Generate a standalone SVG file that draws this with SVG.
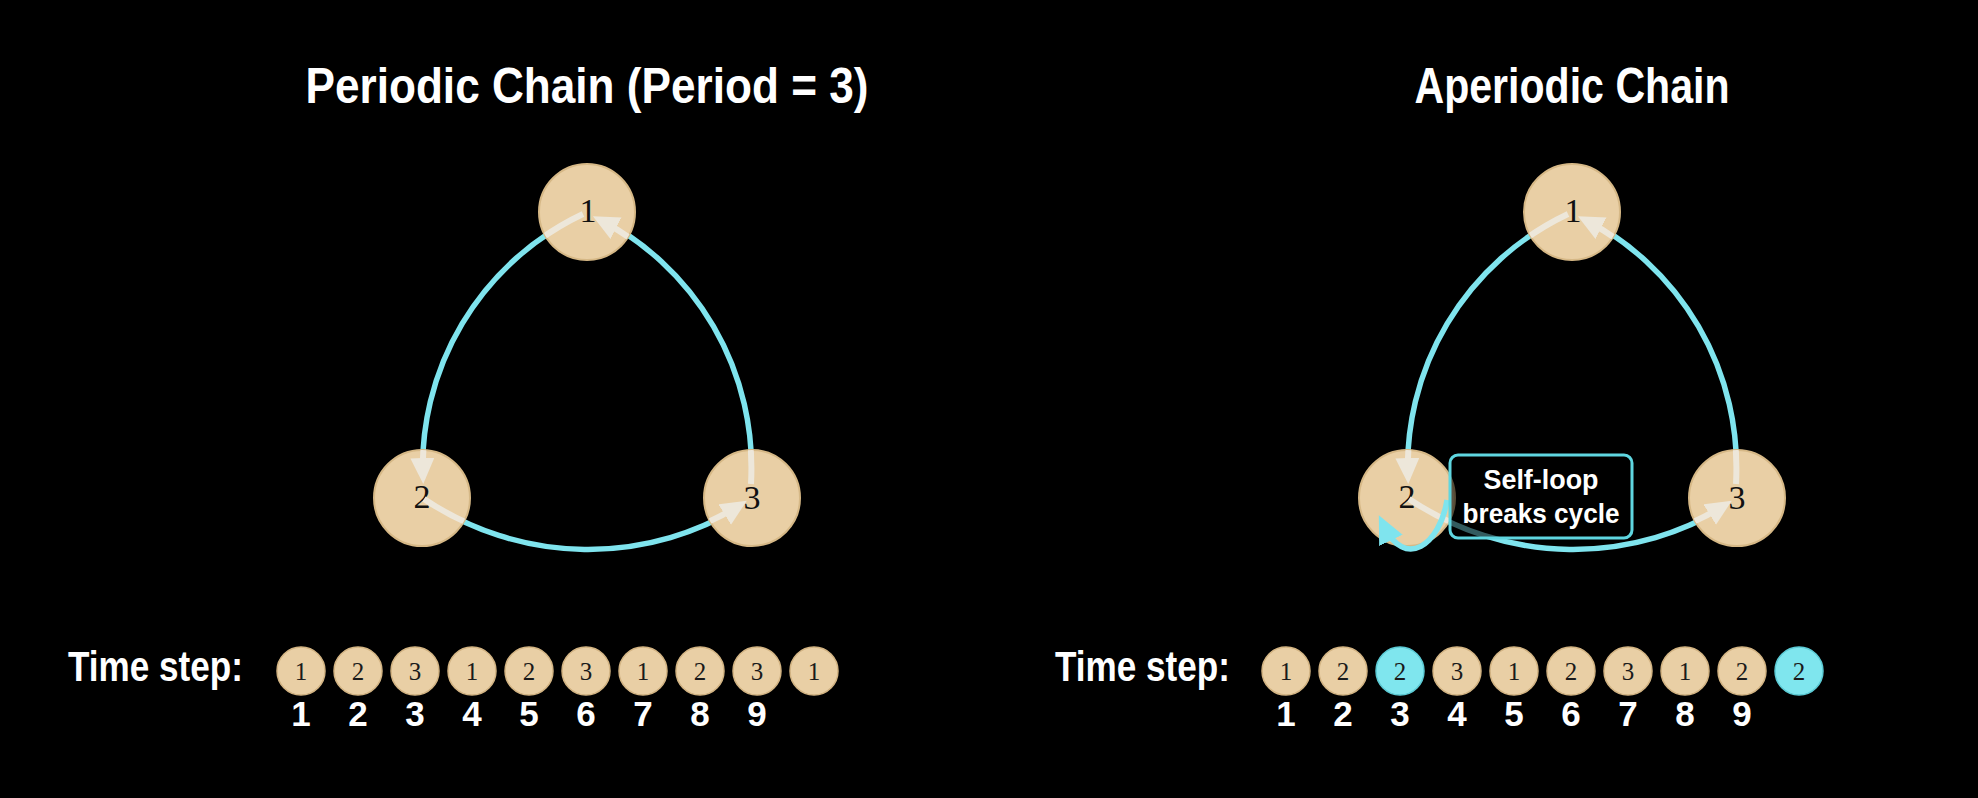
<svg xmlns="http://www.w3.org/2000/svg" width="1978" height="798" viewBox="0 0 1978 798">
  <style>
    .title { font-family: "Liberation Sans", Arial, sans-serif; font-weight: bold; font-size: 50px; fill: #ffffff; text-anchor: middle; }
    .edge { fill: none; stroke: #7fe4ee; stroke-width: 5.5; }
    .inner { fill: none; stroke: #ede7da; stroke-width: 6; }
    .node { fill: #e9cfa5; stroke: #d6b886; stroke-width: 2; }
    .nlabel { font-family: "Liberation Serif", "Times New Roman", serif; font-size: 34px; fill: #111111; text-anchor: middle; }
    .ts { font-family: "Liberation Sans", Arial, sans-serif; font-weight: bold; font-size: 42px; fill: #ffffff; }
    .dot { fill: #e9cfa5; stroke: #d3b483; stroke-width: 1.5; }
    .dotc { fill: #7fe6ee; stroke: #5ccbd5; stroke-width: 1.5; }
    .dlabel { font-family: "Liberation Serif", "Times New Roman", serif; font-size: 25px; fill: #1a1a1a; text-anchor: middle; }
    .num { font-family: "Liberation Sans", Arial, sans-serif; font-weight: bold; font-size: 35px; fill: #ffffff; text-anchor: middle; }
    .boxtext { font-family: "Liberation Sans", Arial, sans-serif; font-weight: bold; font-size: 28px; fill: #ffffff; text-anchor: middle; }
  </style>
  <defs>
    <marker id="arrowLight" markerUnits="userSpaceOnUse" markerWidth="28" markerHeight="26" refX="18" refY="12" orient="auto">
      <path d="M0,0 L26,12 L0,24 z" fill="#ede7da"/>
    </marker>
    <marker id="arrowCyan" markerUnits="userSpaceOnUse" markerWidth="30" markerHeight="28" refX="16" refY="13" orient="auto">
      <path d="M0,0 L28,13 L0,26 z" fill="#7fe4ee"/>
    </marker>
    <clipPath id="clipL">
      <circle cx="587" cy="212" r="48"/>
      <circle cx="422" cy="498" r="48"/>
      <circle cx="752" cy="498" r="48"/>
    </clipPath>
    <clipPath id="clipR">
      <circle cx="1572" cy="212" r="48"/>
      <circle cx="1407" cy="498" r="48"/>
      <circle cx="1737" cy="498" r="48"/>
    </clipPath>
  </defs>

  <rect x="0" y="0" width="1978" height="798" fill="#000000"/>

  <text class="title" x="587" y="103" textLength="563" lengthAdjust="spacingAndGlyphs">Periodic Chain (Period = 3)</text>
  <text class="title" x="1572" y="103" textLength="315" lengthAdjust="spacingAndGlyphs">Aperiodic Chain</text>

  <!-- connectors (outer cyan parts) -->
  <g id="connectors">
    <path class="edge" d="M 583 214 A 280 280 0 0 0 423 482"/>
    <path class="edge" d="M 424 499 A 292 292 0 0 0 746 503"/>
    <path class="edge" d="M 751 484 A 280 280 0 0 0 595 216"/>
    <path class="edge" d="M 1568 214 A 280 280 0 0 0 1408 482"/>
    <path class="edge" d="M 1409 499 A 292 292 0 0 0 1731 503"/>
    <path class="edge" d="M 1736 484 A 280 280 0 0 0 1580 216"/>
  </g>

  <!-- left nodes -->
  <g id="node-L1"><circle class="node" cx="587" cy="212" r="48"/><text class="nlabel" x="588" y="222">1</text></g>
  <g id="node-L2"><circle class="node" cx="422" cy="498" r="48"/><text class="nlabel" x="422" y="508">2</text></g>
  <g id="node-L3"><circle class="node" cx="752" cy="498" r="48"/><text class="nlabel" x="752" y="509">3</text></g>

  <!-- right nodes -->
  <g id="node-R1"><circle class="node" cx="1572" cy="212" r="48"/><text class="nlabel" x="1573" y="222">1</text></g>
  <g id="node-R2"><circle class="node" cx="1407" cy="498" r="48"/><text class="nlabel" x="1407" y="508">2</text></g>
  <g id="node-R3"><circle class="node" cx="1737" cy="498" r="48"/><text class="nlabel" x="1737" y="509">3</text></g>

  <!-- connectors (inner light parts + arrowheads) -->
  <g id="connectors-inner">
    <g clip-path="url(#clipL)">
      <path class="inner" d="M 583 214 A 280 280 0 0 0 423 476" marker-end="url(#arrowLight)"/>
      <path class="inner" d="M 424 499 A 292 292 0 0 0 740 505" marker-end="url(#arrowLight)"/>
      <path class="inner" d="M 751 484 A 280 280 0 0 0 600 220" marker-end="url(#arrowLight)"/>
    </g>
    <g clip-path="url(#clipR)">
      <path class="inner" d="M 1568 214 A 280 280 0 0 0 1408 476" marker-end="url(#arrowLight)"/>
      <path class="inner" d="M 1409 499 A 292 292 0 0 0 1725 505" marker-end="url(#arrowLight)"/>
      <path class="inner" d="M 1736 484 A 280 280 0 0 0 1585 220" marker-end="url(#arrowLight)"/>
    </g>
    <!-- self-loop on node 2 -->
    <path class="edge" d="M 1447 500 C 1440 545, 1405 570, 1384 526" marker-end="url(#arrowCyan)"/>
  </g>

  <!-- self-loop label -->
  <g id="label-selfloop">
    <rect x="1450" y="455" width="182" height="83" rx="8" ry="8" fill="#000000" fill-opacity="0.6" stroke="#5fd6e0" stroke-width="3"/>
    <text class="boxtext" x="1541" y="489" textLength="115" lengthAdjust="spacingAndGlyphs">Self-loop</text>
    <text class="boxtext" x="1541" y="523" textLength="157" lengthAdjust="spacingAndGlyphs">breaks cycle</text>
  </g>

  <!-- left time steps -->
  <g id="timeline-left">
    <text class="ts" x="68" y="681" textLength="175" lengthAdjust="spacingAndGlyphs">Time step:</text>
    <circle class="dot" cx="301" cy="671" r="24"/><text class="dlabel" x="301" y="680">1</text>
    <circle class="dot" cx="358" cy="671" r="24"/><text class="dlabel" x="358" y="680">2</text>
    <circle class="dot" cx="415" cy="671" r="24"/><text class="dlabel" x="415" y="680">3</text>
    <circle class="dot" cx="472" cy="671" r="24"/><text class="dlabel" x="472" y="680">1</text>
    <circle class="dot" cx="529" cy="671" r="24"/><text class="dlabel" x="529" y="680">2</text>
    <circle class="dot" cx="586" cy="671" r="24"/><text class="dlabel" x="586" y="680">3</text>
    <circle class="dot" cx="643" cy="671" r="24"/><text class="dlabel" x="643" y="680">1</text>
    <circle class="dot" cx="700" cy="671" r="24"/><text class="dlabel" x="700" y="680">2</text>
    <circle class="dot" cx="757" cy="671" r="24"/><text class="dlabel" x="757" y="680">3</text>
    <circle class="dot" cx="814" cy="671" r="24"/><text class="dlabel" x="814" y="680">1</text>
    <text class="num" x="301" y="726">1</text>
    <text class="num" x="358" y="726">2</text>
    <text class="num" x="415" y="726">3</text>
    <text class="num" x="472" y="726">4</text>
    <text class="num" x="529" y="726">5</text>
    <text class="num" x="586" y="726">6</text>
    <text class="num" x="643" y="726">7</text>
    <text class="num" x="700" y="726">8</text>
    <text class="num" x="757" y="726">9</text>
  </g>

  <!-- right time steps -->
  <g id="timeline-right">
    <text class="ts" x="1055" y="681" textLength="175" lengthAdjust="spacingAndGlyphs">Time step:</text>
    <circle class="dot" cx="1286" cy="671" r="24"/><text class="dlabel" x="1286" y="680">1</text>
    <circle class="dot" cx="1343" cy="671" r="24"/><text class="dlabel" x="1343" y="680">2</text>
    <circle class="dotc" cx="1400" cy="671" r="24"/><text class="dlabel" x="1400" y="680">2</text>
    <circle class="dot" cx="1457" cy="671" r="24"/><text class="dlabel" x="1457" y="680">3</text>
    <circle class="dot" cx="1514" cy="671" r="24"/><text class="dlabel" x="1514" y="680">1</text>
    <circle class="dot" cx="1571" cy="671" r="24"/><text class="dlabel" x="1571" y="680">2</text>
    <circle class="dot" cx="1628" cy="671" r="24"/><text class="dlabel" x="1628" y="680">3</text>
    <circle class="dot" cx="1685" cy="671" r="24"/><text class="dlabel" x="1685" y="680">1</text>
    <circle class="dot" cx="1742" cy="671" r="24"/><text class="dlabel" x="1742" y="680">2</text>
    <circle class="dotc" cx="1799" cy="671" r="24"/><text class="dlabel" x="1799" y="680">2</text>
    <text class="num" x="1286" y="726">1</text>
    <text class="num" x="1343" y="726">2</text>
    <text class="num" x="1400" y="726">3</text>
    <text class="num" x="1457" y="726">4</text>
    <text class="num" x="1514" y="726">5</text>
    <text class="num" x="1571" y="726">6</text>
    <text class="num" x="1628" y="726">7</text>
    <text class="num" x="1685" y="726">8</text>
    <text class="num" x="1742" y="726">9</text>
  </g>
</svg>
